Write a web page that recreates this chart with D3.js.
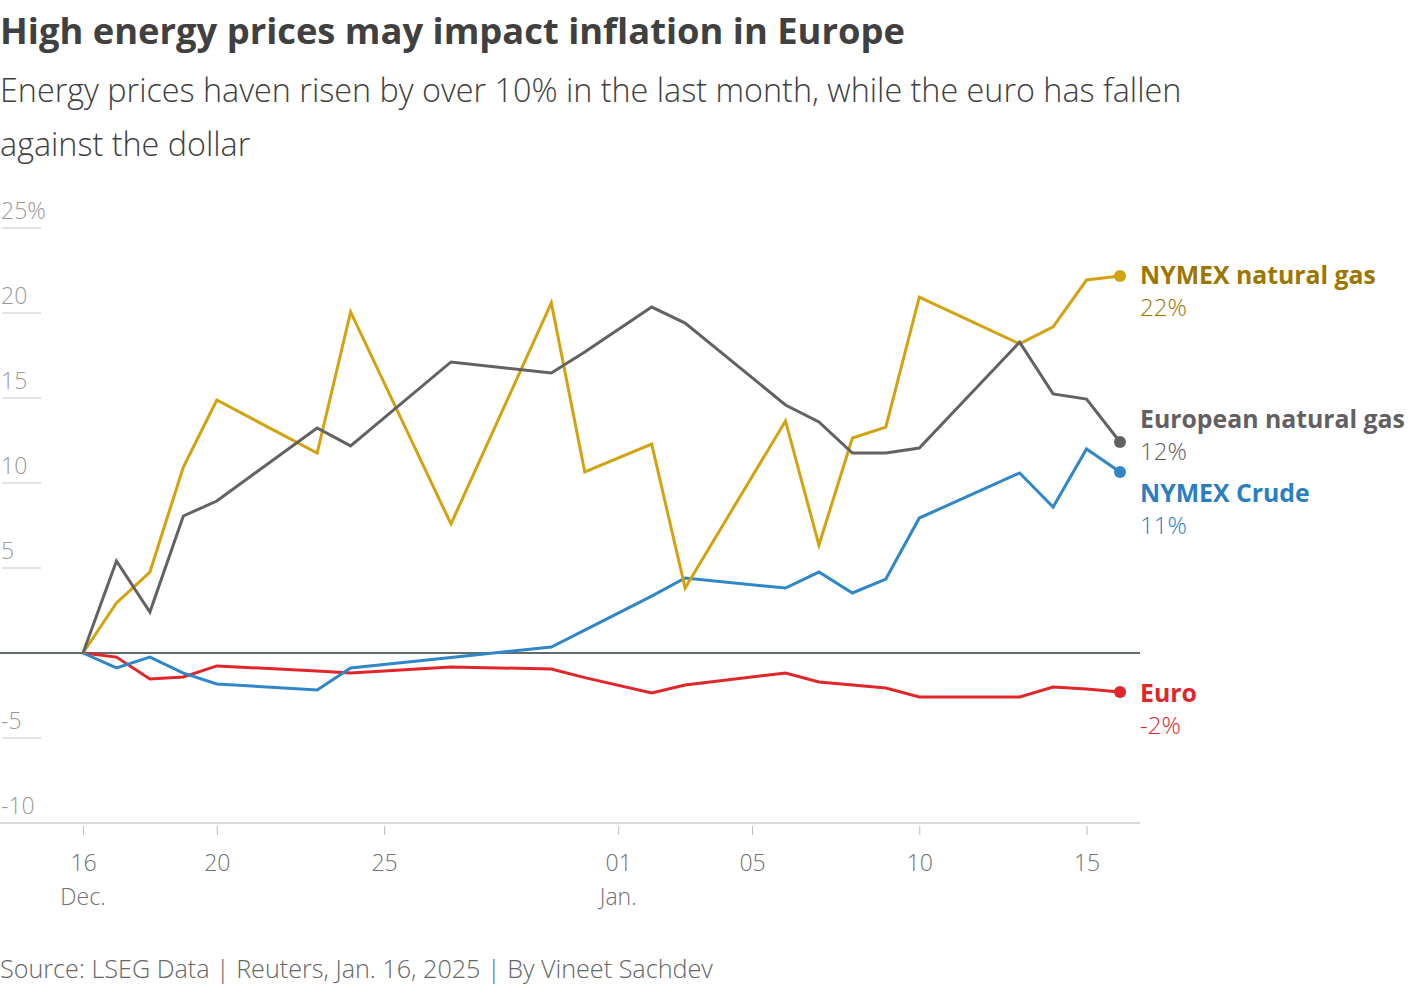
<!DOCTYPE html>
<html>
<head>
<meta charset="utf-8">
<script src="https://cdn.jsdelivr.net/npm/d3@7"></script>
<style>
  html, body { margin: 0; padding: 0; background: #fff; }
  svg { display: block; }
  text { font-family: "Open Sans", Roboto, "Noto Sans", sans-serif; }
</style>
</head>
<body>
<svg id="chart" width="1420" height="984"></svg>
<script>
// ---- Data ----
const dates = ["2024-12-16","2024-12-17","2024-12-18","2024-12-19","2024-12-20","2024-12-23","2024-12-24",
  "2024-12-27","2024-12-30","2024-12-31","2025-01-02","2025-01-03","2025-01-06","2025-01-07","2025-01-08",
  "2025-01-09","2025-01-10","2025-01-13","2025-01-14","2025-01-15","2025-01-16"];
const nymexGas = [0, 2.94, 4.76, 10.94, 14.88, 11.76, 20.06, 7.59, 20.59, 10.65, 12.29, 3.82, 13.65, 6.35, 12.65, 13.29, 20.94, 18.18, 19.18, 21.94, 22.18];
const euroGas  = [0, 5.41, 2.41, 8.06, 8.94, 13.24, 12.18, 17.12, 16.47, 17.71, 20.35, 19.41, 14.59, 13.59, 11.76, 11.76, 12.06, 18.29, 15.24, 14.94, 12.41];
const nymexCrude = [0, -0.88, -0.24, -1.18, -1.82, -2.18, -0.88, -0.26, 0.35, 1.35, 3.35, 4.41, 3.82, 4.76, 3.53, 4.35, 7.94, 10.59, 8.59, 12.0, 10.65];
const euro     = [0, -0.24, -1.53, -1.41, -0.76, -1.06, -1.18, -0.82, -0.94, -1.45, -2.35, -1.88, -1.18, -1.71, -1.88, -2.06, -2.59, -2.59, -2.0, -2.12, -2.29];
const seriesNames = ["NYMEX natural gas", "European natural gas", "NYMEX Crude", "Euro"];
const seriesLabels = ["22%", "12%", "11%", "-2%"];
const yTicks = [25, 20, 15, 10, 5, 0, -5, -10];
const yTickLabels = ["25%", "20", "15", "10", "5", "", "-5", "-10"];
const xTickDates = ["2024-12-16","2024-12-20","2024-12-25","2025-01-01","2025-01-05","2025-01-10","2025-01-15"];
const xTickLabels = ["16","20","25","01","05","10","15"];
const monthLabels = [["2024-12-16","Dec."],["2025-01-01","Jan."]];

// ---- Styles ----
const lineColors = ["#d4a20f", "#646163", "#2f86c8", "#e0262a"];
const labelColors = ["#9c7600", "#636063", "#2a7fc0", "#e0262a"];

const parse = d3.timeParse("%Y-%m-%d");
const svg = d3.select("#chart");

const x = d3.scaleTime().domain([parse("2024-12-16"), parse("2025-01-16")]).range([83, 1120]);
const y = d3.scaleLinear().domain([-10, 25]).range([823, 228]);

// fit helper: shrink/grow font so text spans a target width
function fit(sel, target) {
  const w = sel.node().getComputedTextLength();
  const fs = parseFloat(sel.style("font-size"));
  sel.style("font-size", (fs * target / w).toFixed(2) + "px");
  return sel;
}

// Title
fit(svg.append("text").attr("x", 0).attr("y", 44).text("High energy prices may impact inflation in Europe")
  .style("font-size", "35px").style("font-weight", 700).attr("fill", "#404040"), 905);
fit(svg.append("text").attr("x", 0).attr("y", 102).text("Energy prices haven risen by over 10% in the last month, while the euro has fallen")
  .style("font-size", "30px").style("font-weight", 300).attr("fill", "#404040"), 1182);
const sub2 = svg.append("text").attr("x", 0).attr("y", 156).text("against the dollar")
  .style("font-weight", 300).attr("fill", "#404040");
sub2.style("font-size", d3.select(svg.selectAll("text").nodes()[1]).style("font-size"));

// Y grid ticks (short underlines) + labels
const yg = svg.append("g");
yTicks.forEach((v, i) => {
  if (v !== 0 && v !== -10) {
    yg.append("line").attr("x1", 2).attr("x2", 41).attr("y1", y(v)).attr("y2", y(v))
      .attr("stroke", "#c8c8c8").attr("stroke-width", 1.2);
  }
  if (yTickLabels[i]) {
    yg.append("text").attr("x", 1).attr("y", y(v) - 9).text(yTickLabels[i])
      .style("font-size", "23px").style("font-weight", 300).attr("fill", "#9a9a9a");
  }
});

// Bottom axis
const xAxis = d3.axisBottom(x)
  .tickValues(xTickDates.map(parse))
  .tickSize(9)
  .tickPadding(20)
  .tickFormat((d, i) => xTickLabels[i]);
const gx = svg.append("g").attr("transform", `translate(0,${y(-10) + 3})`).call(xAxis);
gx.select(".domain").remove();
gx.selectAll(".tick line").attr("stroke", "#bdbdbd");
gx.selectAll(".tick text").style("font-size", "23px").style("font-weight", 300)
  .attr("fill", "#707070").style("font-family", "'Open Sans', sans-serif");
svg.append("line").attr("x1", 0).attr("x2", 1140).attr("y1", y(-10)).attr("y2", y(-10))
  .attr("stroke", "#b5b5b5").attr("stroke-width", 1.2);
monthLabels.forEach(([d, t]) => {
  svg.append("text").attr("x", x(parse(d))).attr("y", 905).attr("text-anchor", "middle").text(t)
    .style("font-size", "23px").style("font-weight", 300).attr("fill", "#707070");
});

// Zero line
svg.append("line").attr("x1", 0).attr("x2", 1140).attr("y1", y(0)).attr("y2", y(0))
  .attr("stroke", "#2f3a33").attr("stroke-width", 1.5);

// Lines
const allSeries = [nymexGas, euroGas, nymexCrude, euro];
const line = d3.line().x(d => x(d.date)).y(d => y(d.v));
const drawOrder = [3, 2, 0, 1];
drawOrder.forEach(si => {
  const data = dates.map((d, i) => ({ date: parse(d), v: allSeries[si][i] }));
  svg.append("path").datum(data).attr("d", line).attr("fill", "none")
    .attr("stroke", lineColors[si]).attr("stroke-width", 3).attr("stroke-linejoin", "miter");
  const last = data[data.length - 1];
  svg.append("circle").attr("cx", x(last.date)).attr("cy", y(last.v)).attr("r", 6).attr("fill", lineColors[si]);
});

// End labels
const labelY = [284, 428, 502, 702];
let nameSize = null;
seriesNames.forEach((n, i) => {
  const t = svg.append("text").attr("x", 1140).attr("y", labelY[i]).text(n)
    .style("font-size", "24px").style("font-weight", 700).attr("fill", labelColors[i]);
  if (i === 0) { fit(t, 236); nameSize = t.style("font-size"); } else t.style("font-size", nameSize);
  svg.append("text").attr("x", 1140).attr("y", labelY[i] + 32).text(seriesLabels[i])
    .style("font-size", "24px").style("font-weight", 300).attr("fill", labelColors[i]);
});

// Source
fit(svg.append("text").attr("x", 0).attr("y", 978).text("Source: LSEG Data | Reuters, Jan. 16, 2025 | By Vineet Sachdev")
  .style("font-size", "23px").style("font-weight", 300).attr("fill", "#666"), 713);
</script>
</body>
</html>
